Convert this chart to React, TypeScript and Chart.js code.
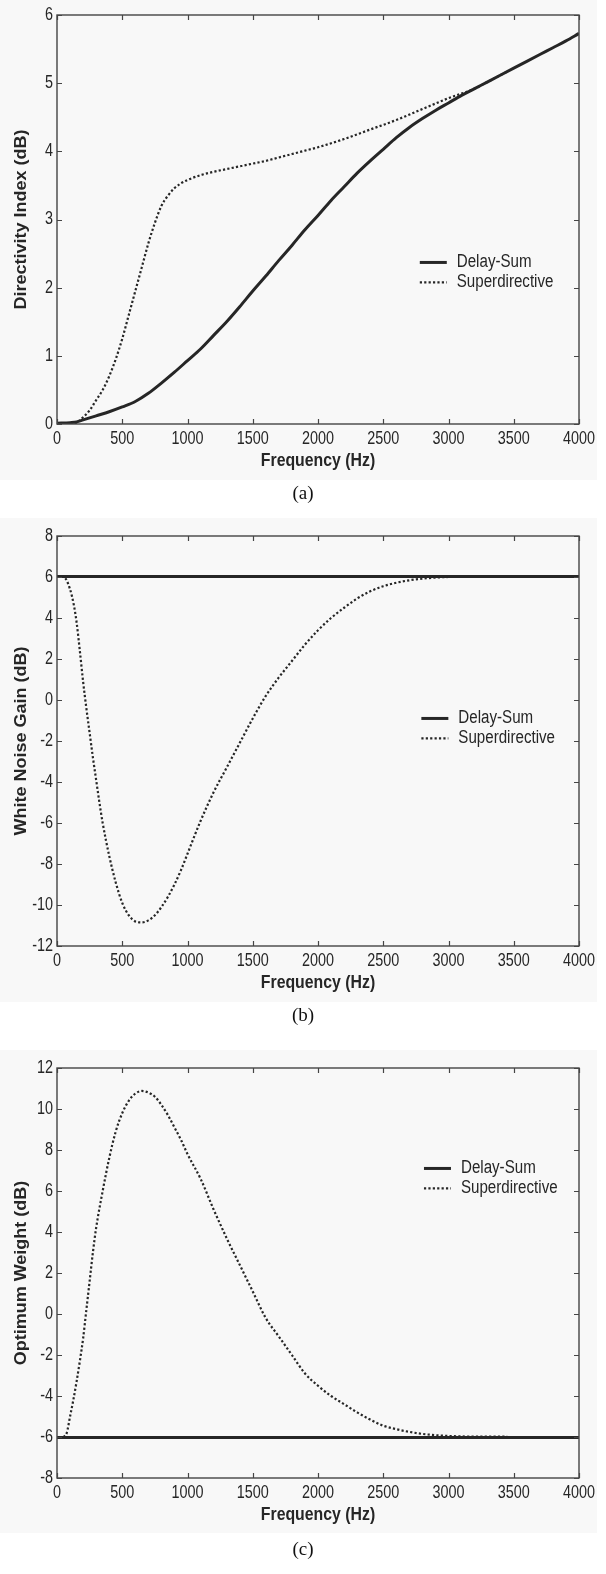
import React, { useEffect, useRef } from "react";
import { Chart, registerables } from "chart.js";

Chart.register(...registerables);

// ---------- Data ----------
const X_TICKS = [0, 500, 1000, 1500, 2000, 2500, 3000, 3500, 4000];

// Panel (a): Directivity Index (dB)
const FREQ_A_DS = [0, 100, 150, 200, 300, 400, 500, 600, 700, 800, 900, 1000, 1100, 1200, 1300, 1400, 1500, 1600, 1700, 1800, 1900, 2000, 2100, 2200, 2300, 2400, 2500, 2600, 2700, 2800, 2900, 3000, 3100, 3200, 3300, 3400, 3500, 3600, 3700, 3800, 3900, 4000];
const DI_DELAY_SUM = [0.01, 0.02, 0.03, 0.06, 0.12, 0.18, 0.25, 0.33, 0.45, 0.6, 0.76, 0.93, 1.1, 1.3, 1.5, 1.72, 1.95, 2.17, 2.4, 2.62, 2.85, 3.06, 3.28, 3.48, 3.68, 3.86, 4.03, 4.2, 4.35, 4.48, 4.6, 4.71, 4.82, 4.92, 5.02, 5.12, 5.22, 5.32, 5.42, 5.52, 5.62, 5.73];
const FREQ_A_SD = [0, 100, 150, 200, 250, 300, 350, 400, 450, 500, 550, 600, 650, 700, 750, 800, 850, 900, 950, 1000, 1100, 1200, 1300, 1400, 1500, 1600, 1700, 1800, 1900, 2000, 2200, 2400, 2600, 2800, 3000, 3200, 3300, 3450];
const DI_SUPERDIRECTIVE = [0.0, 0.0, 0.02, 0.1, 0.2, 0.35, 0.5, 0.7, 0.95, 1.25, 1.6, 1.95, 2.3, 2.65, 2.95, 3.2, 3.35, 3.46, 3.53, 3.58, 3.65, 3.7, 3.74, 3.78, 3.82, 3.86, 3.91, 3.96, 4.01, 4.06, 4.18, 4.32, 4.46, 4.62, 4.78, 4.92, 5.02, 5.17];

// Panel (b): White Noise Gain (dB)
const FREQ_B_DS = [0, 4000];
const WNG_DELAY_SUM = [6.02, 6.02];
const FREQ_B_SD = [0, 50, 100, 130, 150, 175, 200, 225, 250, 275, 300, 325, 350, 400, 450, 500, 550, 600, 650, 700, 750, 800, 850, 900, 950, 1000, 1100, 1200, 1300, 1400, 1500, 1600, 1700, 1800, 1900, 2000, 2100, 2200, 2300, 2400, 2500, 2600, 2700, 2800, 2900, 3000, 3200, 3450];
const WNG_SUPERDIRECTIVE = [6.0, 6.0, 5.4, 4.6, 3.8, 2.4, 0.9, -0.4, -1.6, -2.8, -3.9, -5.0, -6.0, -7.6, -8.9, -9.9, -10.5, -10.8, -10.85, -10.75, -10.5, -10.1, -9.6, -9.0, -8.3, -7.5, -5.9, -4.5, -3.3, -2.1, -0.9, 0.2, 1.1, 1.9, 2.7, 3.4, 4.0, 4.5, 4.95, 5.3, 5.55, 5.72, 5.84, 5.92, 5.97, 6.0, 6.02, 6.02];

// Panel (c): Optimum Weight (dB)
const FREQ_C_DS = [0, 4000];
const OW_DELAY_SUM = [-6.02, -6.02];
const FREQ_C_SD = [50, 75, 100, 125, 150, 175, 200, 225, 250, 275, 300, 350, 400, 450, 500, 550, 600, 650, 700, 750, 800, 850, 900, 950, 1000, 1100, 1200, 1300, 1400, 1500, 1600, 1700, 1800, 1900, 2000, 2100, 2200, 2300, 2400, 2500, 2600, 2700, 2800, 2900, 3000, 3200, 3450];
const OW_SUPERDIRECTIVE = [-6.0, -5.8, -5.0, -4.2, -3.3, -2.3, -1.2, 0.2, 1.6, 3.0, 4.2, 6.0, 7.6, 8.9, 9.8, 10.4, 10.75, 10.88, 10.8, 10.6, 10.2, 9.7, 9.1, 8.5, 7.8, 6.6, 5.1, 3.7, 2.4, 1.1, -0.2, -1.1, -2.0, -2.9, -3.5, -4.0, -4.4, -4.8, -5.15, -5.45, -5.62, -5.75, -5.85, -5.91, -5.95, -5.98, -5.98];

const LEGEND_LABELS = ["Delay-Sum", "Superdirective"];
const X_TITLE = "Frequency (Hz)";

// ---------- Styling ----------
const SANS = '"Liberation Sans", Arial, sans-serif';
const NARROW_X = 0.8; // horizontal squeeze of the original (stretched) figure
const INK = "#262626";
const FRAME = "#454545";
const SOLID_W = 3;
const DOT_W = 2.2;
const DOT_DASH = [2.2, 2.2];

type Panel = {
  key: string;
  plotTop: number;
  plotH: number;
  bgTop: number;
  bgBottom: number;
  captionY: number;
  yMin: number;
  yMax: number;
  yStep: number;
  yTitle: string;
  caption: string;
  legendY: number;
  legendX: number;
  ds: { fx: number[]; fy: number[] };
  sd: { fx: number[]; fy: number[] };
};

const PANELS: Panel[] = [
  {
    key: "a", plotTop: 15, plotH: 409, bgTop: 0, bgBottom: 480, captionY: 493,
    yMin: 0, yMax: 6, yStep: 1, yTitle: "Directivity Index (dB)", caption: "(a)",
    legendY: 0.605, legendX: 0.695,
    ds: { fx: FREQ_A_DS, fy: DI_DELAY_SUM }, sd: { fx: FREQ_A_SD, fy: DI_SUPERDIRECTIVE },
  },
  {
    key: "b", plotTop: 536, plotH: 410, bgTop: 518, bgBottom: 1002, captionY: 1015,
    yMin: -12, yMax: 8, yStep: 2, yTitle: "White Noise Gain (dB)", caption: "(b)",
    legendY: 0.445, legendX: 0.698,
    ds: { fx: FREQ_B_DS, fy: WNG_DELAY_SUM }, sd: { fx: FREQ_B_SD, fy: WNG_SUPERDIRECTIVE },
  },
  {
    key: "c", plotTop: 1068, plotH: 410, bgTop: 1050, bgBottom: 1533, captionY: 1549,
    yMin: -8, yMax: 12, yStep: 2, yTitle: "Optimum Weight (dB)", caption: "(c)",
    legendY: 0.245, legendX: 0.703,
    ds: { fx: FREQ_C_DS, fy: OW_DELAY_SUM }, sd: { fx: FREQ_C_SD, fy: OW_SUPERDIRECTIVE },
  },
];

const W = 606;
const PAD_TOP = 15;
const X_AXIS_H = 60;
const Y_AXIS_W = 57;
const PAD_RIGHT = 27;

function toPoints(fx: number[], fy: number[]) {
  return fx.map((x, i) => ({ x, y: fy[i] }));
}

function squeezedText(ctx: CanvasRenderingContext2D, text: string, x: number, y: number, sx: number) {
  ctx.save();
  ctx.translate(x, y);
  ctx.scale(sx, 1);
  ctx.fillText(text, 0, 0);
  ctx.restore();
}

function makeDecor(p: Panel) {
  return {
    id: "decor_" + p.key,
    afterDatasetsDraw(chart: any) {
      const { ctx, chartArea: a, scales } = chart;
      const xs = scales.x;
      const ys = scales.y;
      ctx.save();
      // frame
      ctx.strokeStyle = FRAME;
      ctx.lineWidth = 1.4;
      ctx.strokeRect(a.left, a.top, a.right - a.left, a.bottom - a.top);
      // inward ticks
      const TL = 5;
      ctx.beginPath();
      X_TICKS.forEach((v) => {
        const px = Math.round(xs.getPixelForValue(v)) + 0.5;
        ctx.moveTo(px, a.bottom);
        ctx.lineTo(px, a.bottom - TL);
        ctx.moveTo(px, a.top);
        ctx.lineTo(px, a.top + TL);
      });
      const yTicks: number[] = [];
      for (let v = p.yMin; v <= p.yMax + 1e-9; v += p.yStep) yTicks.push(v);
      yTicks.forEach((v) => {
        const py = Math.round(ys.getPixelForValue(v)) + 0.5;
        ctx.moveTo(a.left, py);
        ctx.lineTo(a.left + TL, py);
        ctx.moveTo(a.right, py);
        ctx.lineTo(a.right - TL, py);
      });
      ctx.lineWidth = 1.2;
      ctx.stroke();

      // tick labels
      ctx.fillStyle = INK;
      ctx.font = `18px ${SANS}`;
      ctx.textBaseline = "middle";
      ctx.textAlign = "center";
      X_TICKS.forEach((v) => {
        squeezedText(ctx, String(v), xs.getPixelForValue(v), a.bottom + 15, NARROW_X);
      });
      ctx.textAlign = "right";
      yTicks.forEach((v) => {
        squeezedText(ctx, String(v), a.left - 4, ys.getPixelForValue(v), NARROW_X);
      });

      // legend
      const lx = a.left + p.legendX * (a.right - a.left);
      const ly = a.top + p.legendY * (a.bottom - a.top);
      const rowH = 20;
      ctx.font = `18px ${SANS}`;
      ctx.textAlign = "left";
      ctx.strokeStyle = INK;
      ctx.lineWidth = SOLID_W;
      ctx.setLineDash([]);
      ctx.beginPath();
      ctx.moveTo(lx, ly);
      ctx.lineTo(lx + 27, ly);
      ctx.stroke();
      squeezedText(ctx, LEGEND_LABELS[0], lx + 37, ly, 0.84);
      ctx.lineWidth = DOT_W;
      ctx.setLineDash(DOT_DASH);
      ctx.beginPath();
      ctx.moveTo(lx, ly + rowH);
      ctx.lineTo(lx + 27, ly + rowH);
      ctx.stroke();
      ctx.setLineDash([]);
      squeezedText(ctx, LEGEND_LABELS[1], lx + 37, ly + rowH, 0.84);

      // axis titles
      ctx.font = `bold 18px ${SANS}`;
      ctx.textAlign = "center";
      squeezedText(ctx, X_TITLE, (a.left + a.right) / 2, a.bottom + 37, 0.88);
      ctx.save();
      ctx.translate(22, (a.top + a.bottom) / 2);
      ctx.rotate(-Math.PI / 2);
      ctx.scale(1, 0.9);
      ctx.fillText(p.yTitle, 0, 0);
      ctx.restore();
      ctx.restore();
    },
  };
}

function PanelChart({ p }: { p: Panel }) {
  const ref = useRef<HTMLCanvasElement | null>(null);
  const H = PAD_TOP + p.plotH + X_AXIS_H;
  useEffect(() => {
    if (!ref.current) return;
    const chart = new Chart(ref.current, {
      type: "line",
      data: {
        datasets: [
          {
            label: LEGEND_LABELS[0],
            data: toPoints(p.ds.fx, p.ds.fy),
            borderColor: INK,
            borderWidth: SOLID_W,
            pointRadius: 0,
            cubicInterpolationMode: "monotone",
            fill: false,
          },
          {
            label: LEGEND_LABELS[1],
            data: toPoints(p.sd.fx, p.sd.fy),
            borderColor: INK,
            borderWidth: DOT_W,
            borderDash: DOT_DASH,
            pointRadius: 0,
            cubicInterpolationMode: "monotone",
            fill: false,
          },
        ],
      },
      options: {
        responsive: false,
        animation: false,
        events: [],
        layout: { padding: { top: PAD_TOP, right: PAD_RIGHT, left: 0, bottom: 0 } },
        plugins: { legend: { display: false }, tooltip: { enabled: false } },
        scales: {
          x: {
            type: "linear",
            min: 0,
            max: 4000,
            afterFit: (s: any) => { s.height = X_AXIS_H; },
            grid: { display: false, drawTicks: false },
            border: { display: false },
            ticks: { display: false, stepSize: 500 },
          },
          y: {
            type: "linear",
            min: p.yMin,
            max: p.yMax,
            afterFit: (s: any) => { s.width = Y_AXIS_W; },
            grid: { display: false, drawTicks: false },
            border: { display: false },
            ticks: { display: false, stepSize: p.yStep },
          },
        },
      },
      plugins: [makeDecor(p)],
    } as any);
    return () => chart.destroy();
  }, [p]);
  return (
    <canvas
      ref={ref}
      width={W}
      height={H}
      style={{ position: "absolute", left: 0, top: p.plotTop - PAD_TOP, width: W, height: H, display: "block" }}
    />
  );
}

export default function App() {
  return (
    <div style={{ position: "absolute", left: 0, top: 0, width: W, height: 1574, background: "#ffffff", overflow: "hidden" }}>
      {PANELS.map((p) => (
        <div key={"bg" + p.key} style={{ position: "absolute", left: 0, top: p.bgTop, width: 597, height: p.bgBottom - p.bgTop, background: "#f8f8f8" }} />
      ))}
      {PANELS.map((p) => (
        <PanelChart key={p.key} p={p} />
      ))}
      {PANELS.map((p) => (
        <div
          key={"cap" + p.key}
          style={{
            position: "absolute", left: 0, width: W, top: p.captionY - 12, height: 24, lineHeight: "24px",
            textAlign: "center", fontFamily: '"Liberation Serif", "Times New Roman", serif', fontSize: 19, color: "#111",
          }}
        >
          {p.caption}
        </div>
      ))}
    </div>
  );
}
